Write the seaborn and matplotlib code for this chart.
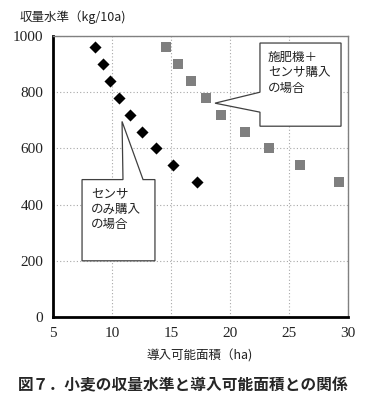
import matplotlib.pyplot as plt
import pandas as pd
import seaborn as sns
from matplotlib.patches import Polygon

# センサのみ購入 (diamonds)
sensor_area = [8.6, 9.2, 9.8, 10.6, 11.5, 12.5, 13.7, 15.2, 17.2]
sensor_yield = [960, 900, 840, 780, 720, 660, 600, 540, 480]
# 施肥機＋センサ購入 (squares)
both_area = [14.6, 15.6, 16.7, 18.0, 19.2, 21.3, 23.3, 25.9, 29.2]
both_yield = [960, 900, 840, 780, 720, 660, 600, 540, 480]

x_ticks = [5, 10, 15, 20, 25, 30]
y_ticks = [0, 200, 400, 600, 800, 1000]

df = pd.concat([
    pd.DataFrame({"area": sensor_area, "yield": sensor_yield, "case": "sensor"}),
    pd.DataFrame({"area": both_area, "yield": both_yield, "case": "both"}),
])

sns.set_style("white")
plt.rcParams["font.family"] = ["Noto Sans CJK JP", "DejaVu Sans"]
JP = ["Noto Sans CJK JP", "DejaVu Sans"]
NUM = ["Liberation Serif", "DejaVu Serif"]

fig = plt.figure(figsize=(3.76, 4.11), dpi=100)
ax = fig.add_axes([0.141, 0.2287, 0.7845, 0.6837])

sns.scatterplot(data=df[df["case"] == "both"], x="area", y="yield", marker="s",
                color="#7f7f7f", s=60, linewidth=0, ax=ax, zorder=3, legend=False)
sns.scatterplot(data=df[df["case"] == "sensor"], x="area", y="yield", marker="D",
                color="black", s=38, linewidth=0, ax=ax, zorder=3, legend=False)

ax.set_xlim(5, 30)
ax.set_ylim(0, 1000)
ax.set_xticks(x_ticks)
ax.set_yticks(y_ticks)
ax.grid(True, color="#a8a8a8", linestyle=(0, (1, 2)), linewidth=0.8)
ax.tick_params(axis="both", direction="out", length=4, width=1.5, color="black",
               pad=3, labelsize=11, labelcolor="#222222")
ax.set_xlabel("")
ax.set_ylabel("")
for lab in ax.get_xticklabels() + ax.get_yticklabels():
    lab.set_fontfamily(NUM)

for side in ["left", "bottom"]:
    ax.spines[side].set_color("black")
    ax.spines[side].set_linewidth(2)
for side in ["top", "right"]:
    ax.spines[side].set_color("#808080")
    ax.spines[side].set_linewidth(1)

# callout: 施肥機＋センサ購入
call1 = [(22.54, 975), (29.41, 975), (29.41, 679), (22.54, 679),
         (22.54, 729), (18.73, 761), (22.54, 800)]
ax.add_patch(Polygon(call1, closed=True, facecolor="white", edgecolor="#404040",
                     linewidth=0.9, zorder=4))
ax.text(23.2, 948, "施肥機＋\nセンサ購入\nの場合", family=JP, fontsize=9,
        va="top", ha="left", linespacing=1.25, color="#222222", zorder=5)

# callout: センサのみ購入
call2 = [(7.46, 489), (10.93, 489), (10.85, 696), (12.63, 489), (13.64, 489),
         (13.64, 200), (7.46, 200)]
ax.add_patch(Polygon(call2, closed=True, facecolor="white", edgecolor="#404040",
                     linewidth=0.9, zorder=4))
ax.text(8.2, 463, "センサ\nのみ購入\nの場合", family=JP, fontsize=9,
        va="top", ha="left", linespacing=1.25, color="#222222", zorder=5)

fig.text(20 / 376, 1 - 17 / 411, "収量水準（kg/10a)", family=JP, fontsize=9,
         va="center", ha="left", color="#222222")
fig.text(200 / 376, 1 - 356 / 411, "導入可能面積（ha)", family=JP, fontsize=9,
         va="center", ha="center", color="#222222")
fig.text(18 / 376, 1 - 385 / 411, "図７．小麦の収量水準と導入可能面積との関係",
         family=JP, fontsize=11.3, fontweight="bold", va="center", ha="left")

fig.savefig("out.png", dpi=100)
